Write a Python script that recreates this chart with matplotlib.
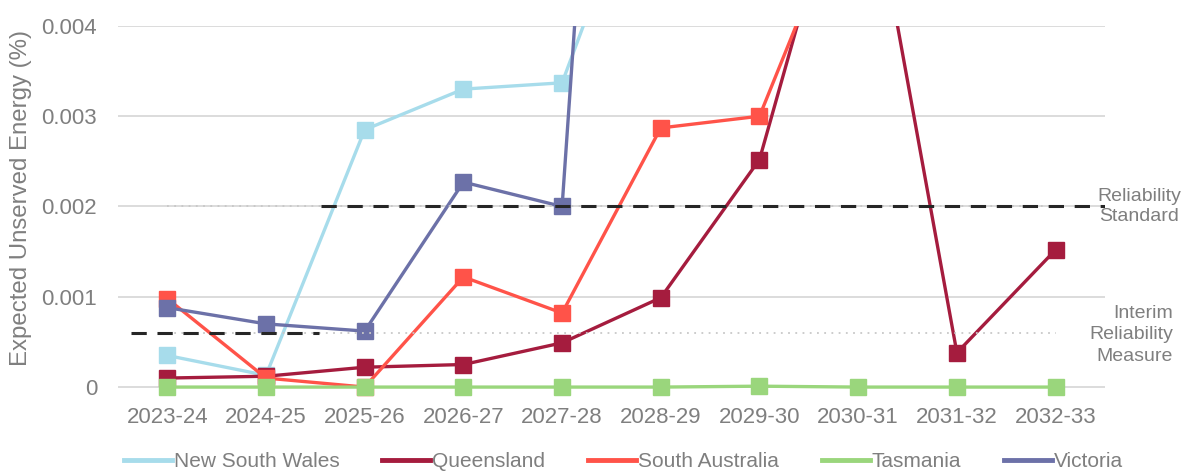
import matplotlib.pyplot as plt
from matplotlib.lines import Line2D

plt.rcParams['font.family'] = ['Liberation Sans', 'DejaVu Sans']

years = ["2023-24", "2024-25", "2025-26", "2026-27", "2027-28",
         "2028-29", "2029-30", "2030-31", "2031-32", "2032-33"]

# values above 0.004 run off the top of the chart, so those are rough guesses
nsw = [0.00035, 0.00013, 0.00285, 0.00330, 0.00337, 0.0063, 0.0080, 0.0100, 0.0110, 0.0120]
qld = [0.00010, 0.00012, 0.00022, 0.00025, 0.00049, 0.00099, 0.00252, 0.0064, 0.00038, 0.00152]
sa = [0.00098, 0.00010, 0.00000, 0.00122, 0.00082, 0.00287, 0.00300, 0.0057, 0.0060, 0.0065]
tas = [0.0, 0.0, 0.0, 0.0, 0.0, 0.0, 0.00001, 0.0, 0.0, 0.0]
vic = [0.00088, 0.00070, 0.00062, 0.00227, 0.00200, 0.0178, 0.0200, 0.0210, 0.0220, 0.0230]

names = ["New South Wales", "Queensland", "South Australia", "Tasmania", "Victoria"]
colors = ["#A7DCEB", "#A51C3E", "#FF5349", "#9AD67C", "#6C71A8"]

standard = 0.002
interim = 0.0006

grey = "#7F7F7F"

fig = plt.figure(figsize=(11.82, 4.71), dpi=100)
ax = fig.add_axes([0.0998, 0.159, 0.835, 0.786])

x = list(range(len(years)))
for vals, name, c in zip([nsw, qld, sa, tas, vic], names, colors):
    ax.plot(x, vals, color=c, lw=2.4, marker='s', ms=11.5, label=name)

# reference lines: dotted grey across the years, dashed black over part of it
ax.plot([0, 9], [standard, standard], color="#C8C8C8", lw=1.3, ls=(0, (1, 3)), zorder=5)
ax.plot([0, 9], [interim, interim], color="#C8C8C8", lw=1.3, ls=(0, (1, 3)), zorder=5)
ax.plot([1.56, 9.5], [standard, standard], color="#262626", lw=2.2, ls=(0, (5, 3.5)), zorder=6)
ax.plot([-0.37, 1.54], [interim, interim], color="#262626", lw=2.2, ls=(0, (5, 3.5)), zorder=6)

ax.set_xlim(-0.5, 9.5)
ax.set_ylim(-0.0001, 0.004)
ax.set_yticks([0, 0.001, 0.002, 0.003, 0.004])
ax.set_yticklabels(["0", "0.001", "0.002", "0.003", "0.004"])
ax.set_xticks(x)
ax.set_xticklabels(years)
ax.tick_params(length=0, labelsize=16, labelcolor=grey)
ax.tick_params(axis='x', pad=8)
ax.tick_params(axis='y', pad=15)
ax.grid(axis='y', color="#D9D9D9", lw=1.3)
ax.set_axisbelow(True)
for s in ax.spines.values():
    s.set_visible(False)
ax.set_ylabel("Expected Unserved Energy (%)", fontsize=17.3, color=grey)
ax.yaxis.set_label_coords(-0.087, 0.535)

ax.text(9.85, standard, "Reliability\nStandard", fontsize=14, color=grey,
        ha='center', va='center', linespacing=1.3, clip_on=False)
ax.text(10.19, interim - 0.00002, "Interim\nReliability\nMeasure", fontsize=14, color=grey,
        ha='right', va='center', linespacing=1.35, clip_on=False)

handles = [Line2D([], [], color=c, lw=3.5) for c in colors]
fig.legend(handles, names, loc='lower left', bbox_to_anchor=(0.089, -0.04), ncol=5,
           frameon=False, fontsize=15, labelcolor=grey, handlelength=2.3,
           handletextpad=0.1, columnspacing=2.05)

fig.savefig("out.png", dpi=100)
